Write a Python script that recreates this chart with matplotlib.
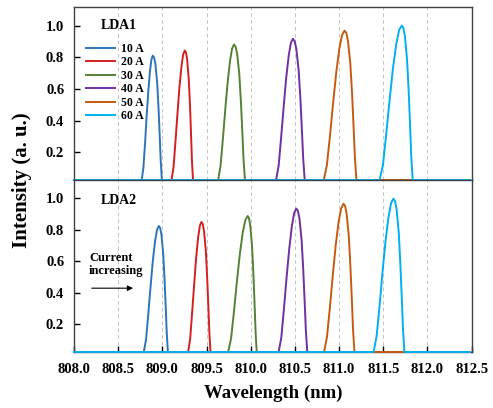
import numpy as np
import matplotlib.pyplot as plt

plt.rcParams["font.family"] = ["Liberation Serif", "DejaVu Serif"]
plt.rcParams["font.weight"] = "bold"

currents = ["10 A", "20 A", "30 A", "40 A", "50 A", "60 A"]
colors = ["#2E75B6", "#D42020", "#548235", "#7030A0", "#C55A11", "#00B0F0"]
xticks = [808.0, 808.5, 809.0, 809.5, 810.0, 810.5, 811.0, 811.5, 812.0, 812.5]
yticks = [0.2, 0.4, 0.6, 0.8, 1.0]

# ---- LDA1 spectra: wavelength (nm) / intensity (a. u.) ----
lda1_wl = [
    [808.0, 808.767, 808.786, 808.805, 808.823, 808.842, 808.861, 808.877, 808.892,
     808.907, 808.922, 808.942, 808.957, 808.972, 808.982, 808.995, 812.48],
    [808.0, 809.104, 809.127, 809.149, 809.172, 809.194, 809.217, 809.236, 809.254,
     809.268, 809.281, 809.299, 809.313, 809.326, 809.335, 809.347, 812.48],
    [808.0, 809.631, 809.658, 809.685, 809.712, 809.739, 809.766, 809.789, 809.811,
     809.829, 809.847, 809.871, 809.889, 809.907, 809.919, 809.935, 812.48],
    [808.0, 810.287, 810.316, 810.344, 810.373, 810.401, 810.430, 810.454, 810.477,
     810.497, 810.516, 810.542, 810.562, 810.581, 810.594, 810.611, 812.48],
    [808.0, 810.827, 810.862, 810.898, 810.933, 810.968, 811.003, 811.034, 811.062,
     811.082, 811.101, 811.127, 811.147, 811.166, 811.179, 811.196, 812.48],
    [808.0, 811.459, 811.497, 811.534, 811.572, 811.609, 811.647, 811.679, 811.709,
     811.727, 811.745, 811.769, 811.787, 811.805, 811.817, 811.833, 812.48],
]
lda1_int = [
    [0.025, 0.025, 0.104, 0.261, 0.433, 0.590, 0.716, 0.786, 0.810,
     0.798, 0.755, 0.637, 0.480, 0.284, 0.143, 0.025, 0.025],
    [0.025, 0.025, 0.107, 0.270, 0.450, 0.613, 0.744, 0.817, 0.842,
     0.830, 0.785, 0.662, 0.499, 0.295, 0.148, 0.025, 0.025],
    [0.025, 0.025, 0.111, 0.282, 0.470, 0.641, 0.777, 0.854, 0.880,
     0.867, 0.820, 0.692, 0.521, 0.307, 0.153, 0.025, 0.025],
    [0.025, 0.025, 0.114, 0.292, 0.488, 0.667, 0.809, 0.889, 0.916,
     0.903, 0.854, 0.720, 0.542, 0.319, 0.159, 0.025, 0.025],
    [0.025, 0.025, 0.119, 0.308, 0.515, 0.704, 0.855, 0.940, 0.968,
     0.954, 0.902, 0.761, 0.572, 0.336, 0.166, 0.025, 0.025],
    [0.025, 0.025, 0.123, 0.318, 0.532, 0.727, 0.883, 0.971, 1.000,
     0.985, 0.932, 0.786, 0.591, 0.347, 0.171, 0.025, 0.025],
]

# ---- LDA2 spectra ----
lda2_wl = [
    [808.0, 808.790, 808.816, 808.841, 808.867, 808.892, 808.918, 808.940, 808.960,
     808.975, 808.990, 809.010, 809.025, 809.040, 809.050, 809.063, 812.48],
    [808.0, 809.292, 809.315, 809.337, 809.360, 809.382, 809.405, 809.424, 809.442,
     809.457, 809.472, 809.492, 809.507, 809.522, 809.532, 809.545, 812.48],
    [808.0, 809.745, 809.778, 809.811, 809.844, 809.877, 809.910, 809.939, 809.965,
     809.980, 809.995, 810.015, 810.030, 810.045, 810.055, 810.068, 812.48],
    [808.0, 810.316, 810.346, 810.376, 810.406, 810.436, 810.466, 810.492, 810.516,
     810.534, 810.552, 810.576, 810.594, 810.612, 810.624, 810.640, 812.48],
    [808.0, 810.830, 810.863, 810.896, 810.929, 810.962, 810.995, 811.024, 811.050,
     811.068, 811.086, 811.110, 811.128, 811.146, 811.158, 811.174, 812.48],
    [808.0, 811.390, 811.424, 811.458, 811.491, 811.525, 811.559, 811.588, 811.615,
     811.633, 811.651, 811.675, 811.693, 811.711, 811.723, 811.739, 812.48],
]
lda2_int = [
    [0.025, 0.025, 0.105, 0.265, 0.441, 0.601, 0.729, 0.801, 0.825,
     0.813, 0.769, 0.649, 0.489, 0.289, 0.145, 0.025, 0.025],
    [0.025, 0.025, 0.108, 0.273, 0.454, 0.619, 0.751, 0.825, 0.850,
     0.838, 0.792, 0.669, 0.504, 0.297, 0.149, 0.025, 0.025],
    [0.025, 0.025, 0.111, 0.284, 0.474, 0.646, 0.784, 0.862, 0.888,
     0.875, 0.828, 0.698, 0.526, 0.310, 0.154, 0.025, 0.025],
    [0.025, 0.025, 0.116, 0.298, 0.498, 0.680, 0.826, 0.908, 0.935,
     0.921, 0.871, 0.735, 0.553, 0.325, 0.162, 0.025, 0.025],
    [0.025, 0.025, 0.119, 0.307, 0.514, 0.703, 0.853, 0.938, 0.966,
     0.952, 0.900, 0.759, 0.571, 0.336, 0.166, 0.025, 0.025],
    [0.025, 0.025, 0.122, 0.317, 0.531, 0.726, 0.881, 0.969, 0.998,
     0.983, 0.930, 0.784, 0.589, 0.346, 0.171, 0.025, 0.025],
]

fig = plt.figure(figsize=(4.93, 4.08), dpi=100)
ax1 = fig.add_axes([0.150, 0.5588, 0.8067, 0.424])
ax2 = fig.add_axes([0.150, 0.1373, 0.8067, 0.4216], sharex=ax1)

for ax, wls, ints in ((ax1, lda1_wl, lda1_int), (ax2, lda2_wl, lda2_int)):
    for wl, it, c, lab in zip(wls, ints, colors, currents):
        ax.plot(wl, it, color=c, lw=1.4, label=lab, clip_on=False, zorder=3,
                solid_joinstyle="round")
    ax.set_xlim(808.0, 812.48)
    ax.set_ylim(0.025, 1.117)
    ax.set_xticks(xticks)
    ax.set_yticks(yticks)
    ax.set_yticklabels([f"{v:.1f}" for v in yticks], fontsize=10.5)
    ax.grid(axis="x", ls=(0, (4, 3)), color="#c4c4c4", lw=0.7)
    ax.tick_params(axis="y", direction="in", length=4, width=1, pad=7)
    ax.tick_params(axis="x", direction="in", length=4, width=1, pad=8,
                   labelsize=10.5)
    for s in ax.spines.values():
        s.set_color("#404040")
        s.set_linewidth(1.0)

ax1.tick_params(axis="x", bottom=False, labelbottom=False)
ax2.set_xticklabels([f"{v:.1f}" for v in xticks])

ax1.legend(loc="upper left", bbox_to_anchor=(0.030, 0.794), frameon=False,
           fontsize=8.5, borderpad=0, borderaxespad=0, labelspacing=0.13,
           handlelength=2.5, handletextpad=0.5)

ax1.text(808.30, 1.0, "LDA1", ha="left", va="center", fontsize=10)
ax2.text(808.30, 0.985, "LDA2", ha="left", va="center", fontsize=10)
ax2.text(808.17, 0.58, "Current\nincreasing", ha="left", va="center",
         fontsize=9, linespacing=1.2)
ax2.annotate("", xy=(808.70, 0.430), xytext=(808.17, 0.430),
             arrowprops=dict(arrowstyle="-|>", color="black", lw=0.8,
                             mutation_scale=8))

fig.text(0.045, 0.559, "Intensity (a. u.)", rotation=90, ha="center",
         va="center", fontsize=15)
fig.text(0.5535, 0.037, "Wavelength (nm)", ha="center", va="center",
         fontsize=13.5)

fig.savefig("out.png", dpi=100)
